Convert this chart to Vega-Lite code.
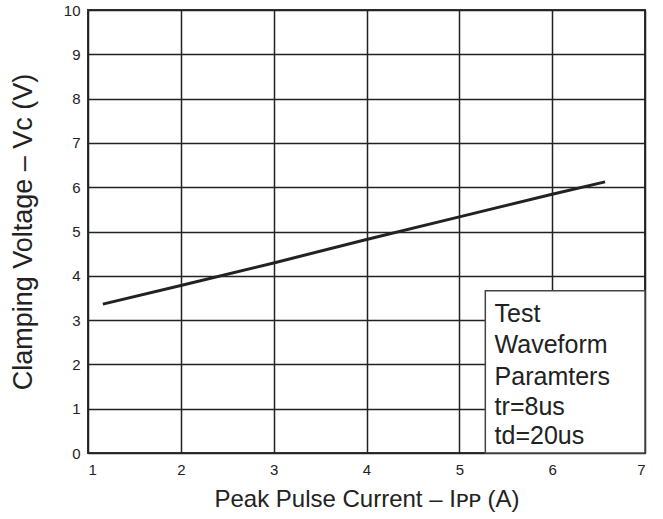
{
  "$schema": "https://vega.github.io/schema/vega-lite/v6.json",
  "autosize": {"type": "none"},
  "padding": {"left": 88, "top": 10, "right": 18, "bottom": 66},
  "width": 557,
  "height": 443,
  "background": "white",
  "config": {
    "font": "Liberation Sans",
    "view": {"stroke": "#333", "strokeWidth": 2},
    "axis": {
      "grid": true,
      "gridColor": "#222",
      "gridWidth": 1.5,
      "gridOpacity": 1,
      "domain": false,
      "ticks": false,
      "labelFont": "Liberation Sans",
      "labelFontSize": 15,
      "labelColor": "#222",
      "titleFont": "Liberation Sans",
      "titleFontWeight": "normal",
      "titleColor": "#222"
    }
  },
  "datasets": {
    "curve": [
      {"ipp": 1.16, "vc": 3.36},
      {"ipp": 2.0, "vc": 3.78},
      {"ipp": 3.0, "vc": 4.29},
      {"ipp": 4.0, "vc": 4.82},
      {"ipp": 5.0, "vc": 5.33},
      {"ipp": 6.0, "vc": 5.84},
      {"ipp": 6.57, "vc": 6.12}
    ],
    "box": [{"x1": 5.28, "x2": 7, "y1": 0, "y2": 3.66}],
    "notes": [
      {"x": 5.38, "y": 3.14, "t": "Test"},
      {"x": 5.38, "y": 2.44, "t": "Waveform"},
      {"x": 5.38, "y": 1.72, "t": "Paramters"},
      {"x": 5.38, "y": 1.04, "t": "tr=8us"},
      {"x": 5.38, "y": 0.38, "t": "td=20us"}
    ]
  },
  "layer": [
    {
      "data": {"name": "curve"},
      "mark": {"type": "line", "color": "#222", "strokeWidth": 3},
      "encoding": {
        "x": {"field": "ipp", "type": "quantitative", "scale": {"domain": [1, 7], "nice": false, "zero": false},
              "axis": {"values": [1,2,3,4,5,6,7], "format": "d", "title": "Peak Pulse Current – Iᴘᴘ (A)", "titleFontSize": 24, "labelPadding": 9, "titlePadding": 10}},
        "y": {"field": "vc", "type": "quantitative", "scale": {"domain": [0, 10], "nice": false},
              "axis": {"values": [0,1,2,3,4,5,6,7,8,9,10], "format": "d", "title": "Clamping Voltage – Vᴄ (V)", "titleFontSize": 27, "labelPadding": 8, "titlePadding": 26}}
      }
    },
    {
      "data": {"name": "box"},
      "mark": {"type": "rect", "fill": "white", "stroke": "#444", "strokeWidth": 1.5},
      "encoding": {
        "x": {"field": "x1", "type": "quantitative"},
        "x2": {"field": "x2"},
        "y": {"field": "y1", "type": "quantitative"},
        "y2": {"field": "y2"}
      }
    },
    {
      "data": {"name": "notes"},
      "mark": {"type": "text", "align": "left", "baseline": "middle", "fontSize": 25, "font": "Liberation Sans", "color": "#222"},
      "encoding": {
        "x": {"field": "x", "type": "quantitative"},
        "y": {"field": "y", "type": "quantitative"},
        "text": {"field": "t"}
      }
    }
  ]
}
